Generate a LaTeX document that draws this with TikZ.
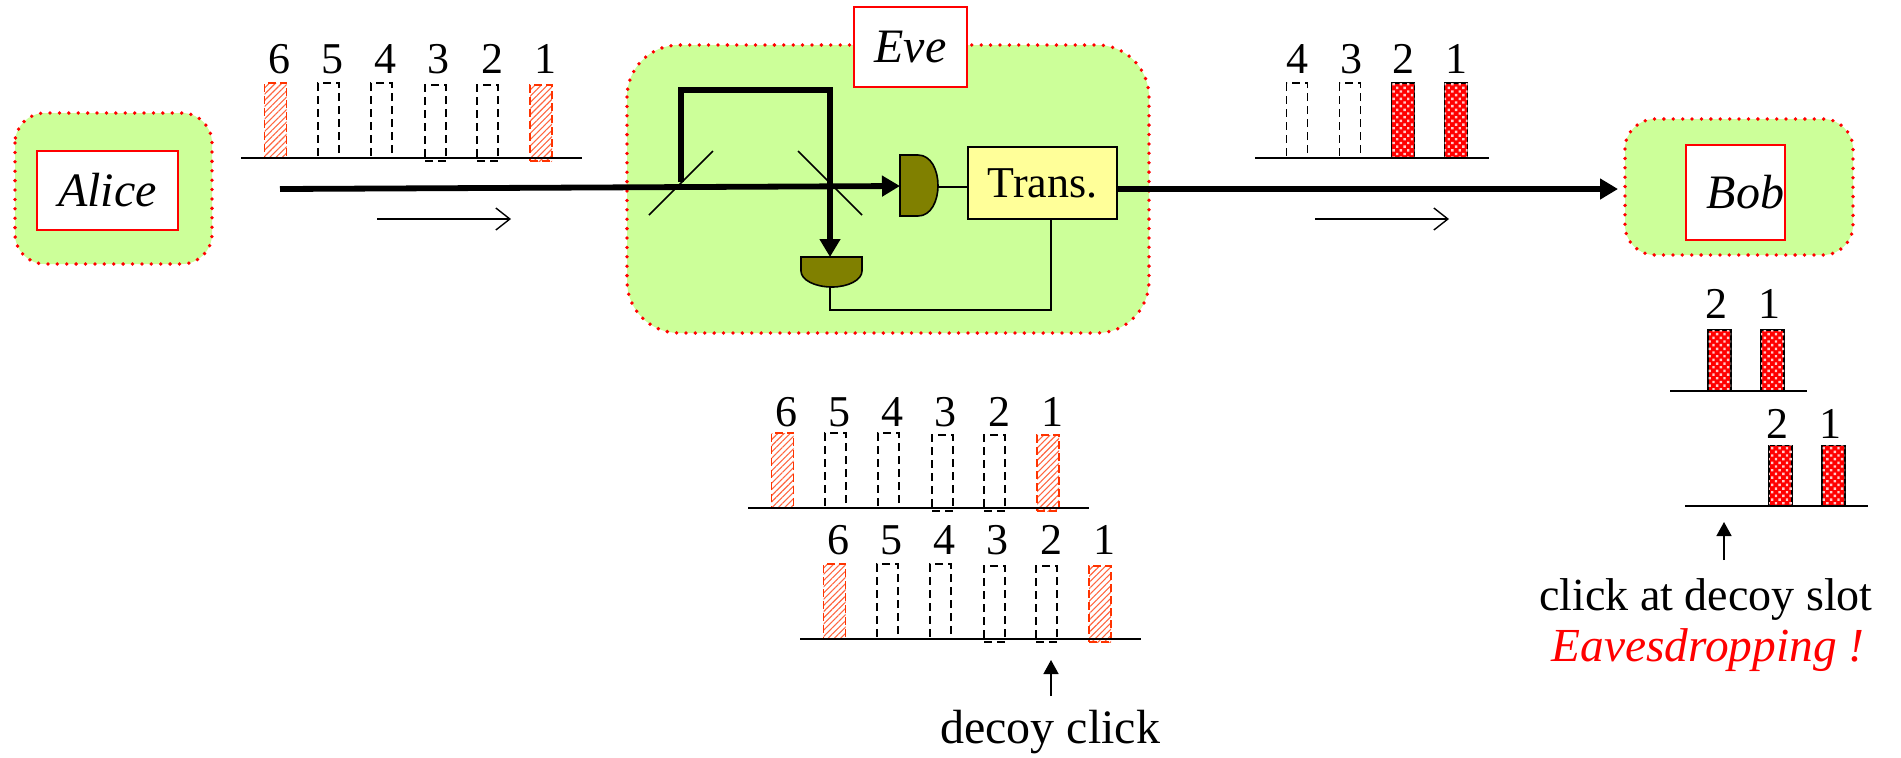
\documentclass[tikz,border=0pt]{standalone}
\usepackage{fontspec}
\setmainfont{Liberation Serif}
\usetikzlibrary{arrows.meta,patterns.meta}
\definecolor{evegreen}{HTML}{CCFF99}
\definecolor{transyellow}{HTML}{FFFF99}
\definecolor{detolive}{HTML}{808000}
\definecolor{hatchred}{HTML}{FF3300}
\tikzset{
  party/.style={fill=evegreen,draw=red,line width=1.9pt,dash pattern=on 0pt off 4.7pt,line cap=round,rounded corners=15pt},
  namebox/.style={draw=red,fill=white,line width=.9pt,inner sep=0pt,outer sep=0pt,font=\fontsize{24}{26}\selectfont\itshape},
  transbox/.style={draw=black,fill=transyellow,line width=.8pt,inner sep=0pt,outer sep=0pt,minimum width=74.5pt,minimum height=36pt,font=\fontsize{22}{24}\selectfont},
  num/.style={inner sep=0pt,font=\fontsize{22}{24}\selectfont},
  bigtext/.style={inner sep=0pt,font=\fontsize{23}{26}\selectfont},
  emptypulse/.style={draw=black,line width=.6pt,dash pattern=on 4pt off 2.5pt,inner sep=0pt,outer sep=0pt,minimum width=10.5pt},
  decoypulse/.style={draw=hatchred,line width=.8pt,dash pattern=on 4pt off 2pt,inner sep=0pt,outer sep=0pt,minimum width=11pt,
     pattern={Lines[angle=45,distance=2.2pt,line width=.55pt]},pattern color=hatchred!75},
  signalpulse/.style={draw=black,line width=.9pt,inner sep=0pt,outer sep=0pt,minimum width=11.5pt,fill=red,
     postaction={pattern={Dots[angle=45,distance=2.6pt,radius=.85pt]},pattern color=white!80!red}},
  tall/.style={minimum height=37.5pt},
  low/.style={minimum height=38pt},
  shortp/.style={minimum height=30.5pt},
  axis/.style={line width=.8pt},
  thin line/.style={line width=.75pt},
  beam/.style={line width=2.9pt},
  headbig/.style={-{Triangle[length=9pt,width=10pt]}},
  flow/.style={line width=.7pt,-{Straight Barb[length=7pt,width=11pt,line width=.7pt]}},
  pointer/.style={line width=.8pt,-{Triangle[length=7pt,width=7.5pt]}},
  detector/.style={draw=black,fill=detolive,line width=.8pt},
}
\newcommand{\sixrow}[4]{%
\begin{scope}[shift={(#2,#3)}]
  \node[decoypulse,tall] (#1p6) at (275.5,120.5) {};
  \node[emptypulse,tall] (#1p5) at (328.5,120.5) {};
  \node[emptypulse,tall] (#1p4) at (381.5,120.5) {};
  \node[emptypulse,low] (#1p3) at (435.5,123) {};
  \node[emptypulse,low] (#1p2) at (487.5,123) {};
  \node[decoypulse,low] (#1p1) at (541,123) {};
  \node[num] (#1n6) at (279,#4) {6};
  \node[num] (#1n5) at (332,#4) {5};
  \node[num] (#1n4) at (385,#4) {4};
  \node[num] (#1n3) at (438,#4) {3};
  \node[num] (#1n2) at (492,#4) {2};
  \node[num] (#1n1) at (545,#4) {1};
  \coordinate (#1a) at (241,158);
  \coordinate (#1b) at (582,158);
  \draw[axis] (#1a) -- (#1b);
\end{scope}}
\begin{document}
\begin{tikzpicture}[x=0.5pt,y=-0.5pt]
\useasboundingbox (0,0) rectangle (1901,757);
% parties
\draw[party] (15,113) rectangle (212,264);
\draw[party,rounded corners=26pt] (627,45) rectangle (1149,333);
\draw[party] (1625,119) rectangle (1853,255);
\node[namebox,minimum width=70.5pt,minimum height=39.5pt] (alice) at (107.5,190.5) {Alice};
\node[namebox,minimum width=56.5pt,minimum height=40pt] (eve) at (910.5,47) {\raisebox{-1pt}{Eve}};
\node[namebox,minimum width=49.5pt,minimum height=47.5pt] (bob) at (1735.5,192.5) {\hspace*{10pt}Bob};
% pulse rows
\sixrow{r}{0}{0}{59}
\sixrow{c}{507}{350}{62}
\sixrow{d}{559}{481}{59}
\node[emptypulse,tall] (t4) at (1297,120.5) {};
\node[emptypulse,tall] (t3) at (1350,120.5) {};
\node[signalpulse,tall] (t2) at (1403,120.5) {};
\node[signalpulse,tall] (t1) at (1456,120.5) {};
\node[num] (tn4) at (1297,59) {4};
\node[num] (tn3) at (1351,59) {3};
\node[num] (tn2) at (1403,59) {2};
\node[num] (tn1) at (1456,59) {1};
\coordinate (ta) at (1255,158);
\coordinate (tb) at (1489,158);
\draw[axis] (ta) -- (tb);
\node[signalpulse,shortp] (u2) at (1719.5,360.5) {};
\node[signalpulse,shortp] (u1) at (1772.5,360.5) {};
\node[num] (un2) at (1716,304) {2};
\node[num] (un1) at (1769,304) {1};
\coordinate (ua) at (1670,391);
\coordinate (ub) at (1807,391);
\draw[axis] (ua) -- (ub);
\node[signalpulse,shortp] (v2) at (1780.5,476) {};
\node[signalpulse,shortp] (v1) at (1833.5,476) {};
\node[num] (vn2) at (1777,424) {2};
\node[num] (vn1) at (1830,424) {1};
\coordinate (va) at (1685,506);
\coordinate (vb) at (1868,506);
\draw[axis] (va) -- (vb);
% Eve's apparatus
\node[transbox] (trans) at (1042.5,183) {Trans.};
\coordinate (m1a) at (649,215);
\coordinate (m1b) at (713,151);
\coordinate (m2a) at (798,151);
\coordinate (m2b) at (862,215);
\draw[thin line] (m1a) -- (m1b);
\draw[thin line] (m2a) -- (m2b);
\coordinate (d1w) at (900,186);
\coordinate (d1e) at (938,187);
\coordinate (d2n) at (830,257);
\coordinate (d2s) at (830,287);
\draw[detector] (900,155) -- (918,155) .. controls (931,155) and (938,170) .. (938,185.5) .. controls (938,201) and (931,216) .. (918,216) -- (900,216) -- cycle;
\draw[detector] (801,257) -- (862,257) -- (862,271) .. controls (862,280) and (848,287) .. (832,287) .. controls (815,287) and (801,280) .. (801,271) -- cycle;
\draw[thin line] (d1e) -- (d1e -| trans.west);
\coordinate (wire) at (1051,310);
\draw[thin line] (d2s) |- (wire) -- (wire |- trans.south);
% beams
\coordinate (start) at (280,189);
\coordinate (split) at (681,187.5);
\coordinate (bobin) at (1618,189);
\coordinate (tl) at (681,90);
\coordinate (tr) at (830,90);
\draw[beam,headbig] (start) -- (d1w);
\draw[beam] (split) ++(0,-6) -- (tl) -- (tr) -- (830,120);
\draw[beam,headbig] (tr) -- (d2n);
\draw[beam,headbig] (trans.east |- bobin) -- (bobin);
% flow arrows
\coordinate (f1a) at (377,219);
\coordinate (f1b) at (511,219);
\coordinate (f2a) at (1315,219);
\coordinate (f2b) at (1449,219);
\draw[flow] (f1a) -- (f1b);
\draw[flow] (f2a) -- (f2b);
% pointers and captions
\node[bigtext,font=\fontsize{24}{26}\selectfont] (decoy) at (1050,732) {decoy click};
\coordinate (pa) at (1051,696);
\coordinate (pb) at (1051,660);
\draw[pointer] (pa) -- (pb);
\node[bigtext] (clickt) at (1706,599) {click at decoy slot};
\node[bigtext,text=red,font=\fontsize{23.7}{26}\selectfont\itshape] (eaves) at (1708,650) {Eavesdropping !};
\coordinate (qa) at (1724,560);
\coordinate (qb) at (1724,522);
\draw[pointer] (qa) -- (qb);
\end{tikzpicture}
\end{document}
